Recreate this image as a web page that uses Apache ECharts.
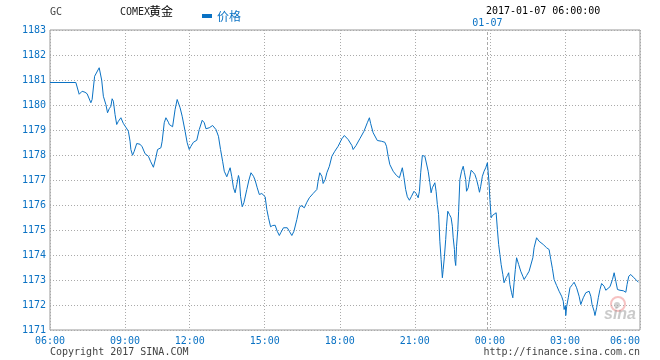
<!DOCTYPE html>
<html>
<head>
<meta charset="utf-8">
<script src="https://cdn.jsdelivr.net/npm/echarts@6/dist/echarts.min.js"></script>
<style>
html,body{margin:0;padding:0;background:#fff;}
#c{width:660px;height:360px;}
</style>
</head>
<body>
<div id="c"></div>
<script>
// ---- data (COMEX gold GC, 2017-01-06 06:00 -> 2017-01-07 06:00) ----
const sessionDays = ['01-06', '01-07'];
const gapStart = '10:30';   // minutes missing from the intraday axis
const gapEnd = '10:54';
const xTickLabels = ['06:00','09:00','12:00','15:00','18:00','21:00','00:00','03:00','06:00'];
const yTicks = [1171,1172,1173,1174,1175,1176,1177,1178,1179,1180,1181,1182,1183];
const dayMarkTime = '23:54';
const dayMarkLabel = '01-07';

const times = [
'06:00','07:02','07:10','07:17','07:24','07:29','07:38','07:41','07:47','07:58',
'08:04','08:08','08:14','08:18','08:22','08:26','08:29','08:32','08:36','08:40',
'08:44','08:50','08:56','09:02','09:08','09:12','09:14','09:18','09:22','09:28',
'09:36','09:41','09:48','09:56','10:01','10:08','10:14','10:18','10:26','10:29',
'10:59','11:03','11:09','11:11','11:19','11:25','11:30','11:37','11:42','11:49',
'11:54','11:59','12:03','12:09','12:17','12:23','12:30','12:35','12:39','12:47',
'12:55','12:59','13:03','13:09','13:14','13:19','13:23','13:29','13:33','13:37',
'13:41','13:45','13:49','13:53','13:57','13:59','14:02','14:06','14:10','14:17',
'14:22','14:27','14:33','14:37','14:42','14:47','14:53','14:57','15:01','15:05',
'15:09','15:14','15:19','15:25','15:30','15:35','15:39','15:45','15:54','15:59',
'16:05','16:10','16:17','16:23','16:27','16:31','16:35','16:41','16:47','16:56',
'17:05','17:08','17:12','17:17','17:20','17:25','17:29','17:35','17:41','17:48',
'17:56','18:05','18:11','18:20','18:29','18:32','18:39','18:48','18:58','19:06',
'19:11','19:14','19:20','19:30','19:40','19:48','19:52','19:56','20:00','20:08',
'20:16','20:23','20:30','20:34','20:38','20:42','20:47','20:52','20:58','21:03',
'21:08','21:11','21:14','21:18','21:24','21:28','21:32','21:36','21:39','21:42',
'21:44','21:48','21:51','21:54','21:57','22:00','22:03','22:06','22:08','22:11',
'22:14','22:16','22:19','22:23','22:27','22:30','22:32','22:35','22:36','22:38',
'22:40','22:43','22:45','22:48','22:52','22:56','22:59','23:02','23:04','23:08',
'23:11','23:15','23:20','23:24','23:28','23:32','23:35','23:38','23:42','23:46',
'23:50','23:54','23:56','23:58','00:00','00:03','00:06','00:10','00:15','00:18',
'00:21','00:24','00:27','00:31','00:34','00:39','00:42','00:45','00:48','00:52',
'00:55','00:58','01:01','01:04','01:09','01:14','01:19','01:22','01:28','01:34',
'01:43','01:46','01:52','01:58','02:08','02:16','02:22','02:26','02:30','02:34',
'02:40','02:46','02:52','02:56','02:58','03:01','03:02','03:04','03:08','03:12',
'03:18','03:22','03:28','03:34','03:38','03:44','03:50','03:54','03:58','04:02',
'04:05','04:10','04:12','04:16','04:20','04:24','04:28','04:34','04:38','04:42',
'04:48','04:54','04:58','05:02','05:06','05:12','05:20','05:26','05:29','05:33',
'05:38','05:44','05:50','05:56'
];
const prices = [
1180.90,1180.90,1180.43,1180.55,1180.51,1180.45,1180.09,1180.22,1181.15,1181.49,
1180.99,1180.35,1180.02,1179.69,1179.85,1179.95,1180.25,1180.15,1179.62,1179.22,
1179.35,1179.49,1179.26,1179.11,1178.95,1178.55,1178.22,1177.99,1178.15,1178.46,
1178.43,1178.33,1178.05,1177.95,1177.75,1177.51,1177.91,1178.22,1178.29,1178.55,
1179.29,1179.49,1179.31,1179.22,1179.13,1179.82,1180.22,1179.89,1179.55,1178.95,
1178.49,1178.22,1178.35,1178.51,1178.59,1179.02,1179.39,1179.29,1179.05,1179.09,
1179.18,1179.22,1179.02,1178.75,1178.22,1177.75,1177.35,1177.13,1177.31,1177.49,
1177.13,1176.69,1176.49,1176.82,1177.18,1177.05,1176.35,1175.93,1176.09,1176.62,
1176.99,1177.29,1177.15,1176.99,1176.69,1176.42,1176.46,1176.38,1176.33,1175.82,
1175.49,1175.13,1175.18,1175.19,1174.95,1174.78,1174.91,1175.09,1175.09,1174.95,
1174.78,1174.95,1175.42,1175.89,1175.98,1175.93,1175.89,1176.11,1176.29,1176.46,
1176.62,1176.95,1177.29,1177.15,1176.86,1177.02,1177.29,1177.55,1177.95,1178.15,
1178.35,1178.65,1178.78,1178.62,1178.38,1178.22,1178.38,1178.65,1178.95,1179.29,
1179.49,1179.26,1178.89,1178.58,1178.55,1178.51,1178.35,1177.95,1177.62,1177.35,
1177.18,1177.09,1177.49,1177.09,1176.62,1176.33,1176.19,1176.35,1176.55,1176.46,
1176.29,1176.55,1177.29,1177.98,1177.95,1177.89,1177.35,1176.89,1176.49,1176.69,
1176.62,1176.89,1176.55,1176.02,1175.62,1174.55,1173.82,1173.09,1173.42,1173.95,
1174.62,1175.15,1175.75,1175.62,1175.49,1175.15,1174.69,1174.22,1173.82,1173.58,
1174.35,1175.02,1175.75,1177.02,1177.35,1177.55,1177.29,1177.02,1176.55,1176.69,
1177.02,1177.39,1177.31,1177.22,1177.02,1176.75,1176.51,1176.75,1177.15,1177.35,
1177.49,1177.69,1177.29,1176.89,1176.22,1175.49,1175.58,1175.62,1175.69,1175.02,
1174.42,1174.02,1173.62,1173.22,1172.89,1173.09,1173.18,1173.29,1172.82,1172.49,
1172.29,1172.89,1173.42,1173.89,1173.62,1173.35,1173.15,1173.02,1173.18,1173.35,
1173.89,1174.29,1174.69,1174.55,1174.42,1174.29,1174.22,1173.82,1173.45,1173.02,
1172.78,1172.55,1172.35,1172.15,1171.82,1171.98,1171.58,1171.93,1172.29,1172.69,
1172.82,1172.91,1172.69,1172.35,1172.02,1172.29,1172.49,1172.55,1172.55,1172.35,
1172.02,1171.75,1171.58,1171.89,1172.29,1172.62,1172.86,1172.75,1172.59,1172.65,
1172.73,1173.02,1173.29,1172.95,1172.62,1172.59,1172.57,1172.51,1172.82,1173.15,
1173.22,1173.11,1173.02,1172.91
];

// ---- build axis categories (one per minute, skipping the gap) ----
function toMin(t){ const p = t.split(':'); return (+p[0]) * 60 + (+p[1]); }
function fmt(m){ const h = Math.floor(m / 60), mm = m % 60; return (h < 10 ? '0' : '') + h + ':' + (mm < 10 ? '0' : '') + mm; }
const categories = [];
const gs = toMin(gapStart), ge = toMin(gapEnd);
for (let m = toMin(xTickLabels[0]); m < 24 * 60; m++) {
  if (m >= gs && m <= ge) continue;
  categories.push(sessionDays[0] + ' ' + fmt(m));
}
for (let m = 0; m <= toMin(xTickLabels[xTickLabels.length - 1]); m++) {
  categories.push(sessionDays[1] + ' ' + fmt(m));
}
// series pairs: roll to next day when the clock wraps
const seriesData = [];
let day = 0, prev = -1;
for (let i = 0; i < times.length; i++) {
  const m = toMin(times[i]);
  if (m < prev) day = 1;
  prev = m;
  seriesData.push([sessionDays[day] + ' ' + times[i], prices[i]]);
}
function isTick(idx, val) {
  return xTickLabels.indexOf(val.slice(6)) >= 0 && (+val.slice(6, 8)) % 3 === 0 && val.slice(9) === '00';
}

const blue = '#0a72c4';
const mono = 'DejaVu Sans Mono';
const chart = echarts.init(document.getElementById('c'), null, {renderer: 'canvas'});
chart.setOption({
  animation: false,
  backgroundColor: '#fff',
  grid: {left: 50, right: 20, top: 30, bottom: 30, show: true, borderColor: '#999', borderWidth: 1, backgroundColor: 'transparent'},
  legend: {
    data: ['价格'], left: 197, top: 5, icon: 'rect', itemWidth: 10, itemHeight: 4, itemGap: 6,
    textStyle: {color: blue, fontSize: 12, fontFamily: 'Noto Sans CJK SC'}
  },
  xAxis: {
    type: 'category', data: categories, boundaryGap: false,
    axisLine: {show: false}, axisTick: {show: false},
    axisLabel: {
      interval: isTick, color: blue, fontSize: 10, fontFamily: mono, margin: 6,
      formatter: v => v.slice(6), alignMaxLabel: 'right'
    },
    splitLine: {show: true, interval: isTick, lineStyle: {color: '#aaa', type: [1, 2], width: 1}}
  },
  yAxis: {
    type: 'value', min: yTicks[0], max: yTicks[yTicks.length - 1], interval: 1,
    axisLine: {show: false}, axisTick: {show: false},
    axisLabel: {color: blue, fontSize: 10, fontFamily: mono, margin: 4, formatter: v => String(v)},
    splitLine: {show: true, lineStyle: {color: '#aaa', type: [1, 2], width: 1}}
  },
  series: [{
    name: '价格', type: 'line', data: seriesData, showSymbol: false, symbol: 'none',
    lineStyle: {color: blue, width: 1}, itemStyle: {color: blue}, z: 5,
    markLine: {
      silent: true, symbol: ['none', 'none'],
      lineStyle: {color: '#aaa', type: [3, 2], width: 1},
      label: {show: true, position: 'end', formatter: dayMarkLabel, color: blue, fontSize: 10, fontFamily: mono, distance: 2},
      data: [{xAxis: sessionDays[0] + ' ' + dayMarkTime}]
    }
  }],
  graphic: [
    {type: 'text', left: 50, top: 7, style: {text: 'GC', fill: '#444', font: '10px ' + mono}},
    {type: 'text', left: 120, top: 7, style: {text: 'COMEX', fill: '#222', font: '10px ' + mono}},
    {type: 'text', left: 149, top: 5, style: {text: '黄金', fill: '#000', font: '12px "Noto Sans CJK SC"'}},
    {type: 'text', left: 486, top: 6, style: {text: '2017-01-07 06:00:00', fill: '#000', font: '10px ' + mono}},
    {type: 'text', left: 50, top: 347, style: {text: 'Copyright 2017 SINA.COM', fill: '#444', font: '10px ' + mono}},
    {type: 'text', right: 20, top: 347, style: {text: 'http://finance.sina.com.cn', fill: '#444', font: '10px ' + mono}},
    {type: 'circle', shape: {cx: 618, cy: 304, r: 7}, style: {fill: 'none', stroke: 'rgba(235,120,120,0.45)', lineWidth: 2}, z: 0},
    {type: 'circle', shape: {cx: 617, cy: 305, r: 3}, style: {fill: 'rgba(150,150,150,0.45)'}, z: 0},
    {type: 'text', left: 604, top: 307, style: {text: 'sina', fill: 'rgba(150,150,150,0.5)', font: 'italic bold 16px Arial'}, z: 0}
  ]
});
</script>
</body>
</html>
